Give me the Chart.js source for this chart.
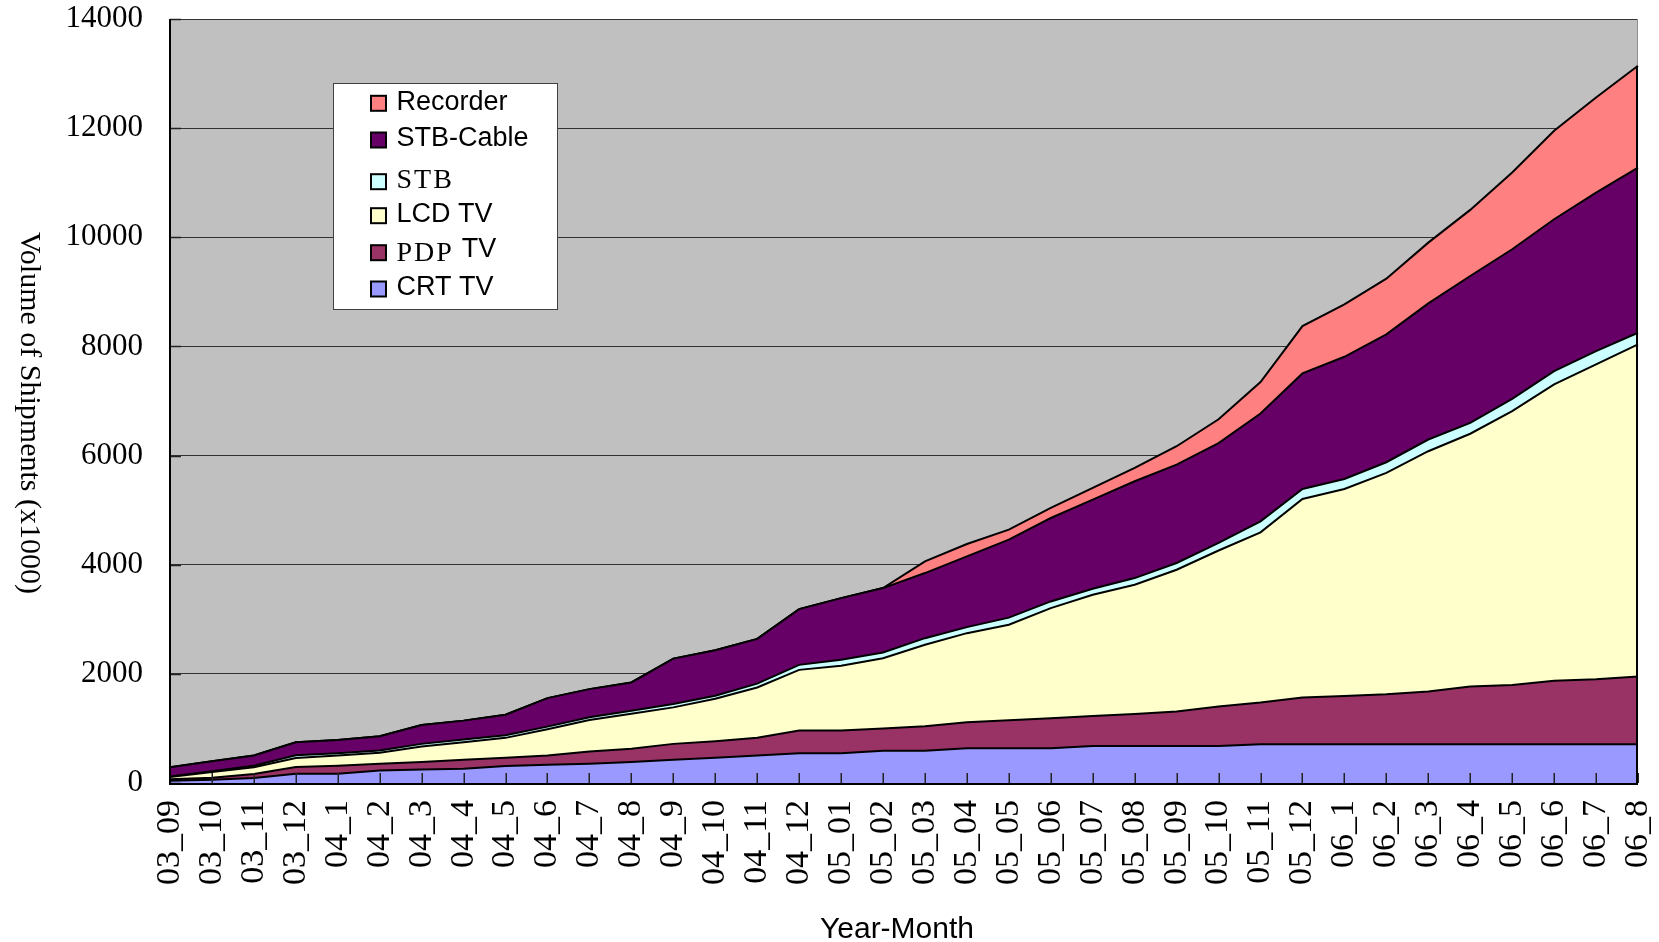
<!DOCTYPE html>
<html>
<head>
<meta charset="utf-8">
<title>Volume of Shipments</title>
<script src="https://cdn.jsdelivr.net/npm/chart.js@4.4.1/dist/chart.umd.min.js"></script>
<style>
html,body{margin:0;padding:0;background:#ffffff;overflow:hidden;}
#box{position:relative;width:1659px;height:942px;}
canvas{display:block;}
</style>
</head>
<body>
<div id="box"><canvas id="chart" width="1659" height="942"></canvas></div>
<script>
// ---------- data ----------
const categories = ['03_09','03_10','03_11','03_12','04_1','04_2','04_3','04_4','04_5','04_6','04_7','04_8','04_9','04_10','04_11','04_12','05_01','05_02','05_03','05_04','05_05','05_06','05_07','05_08','05_09','05_10','05_11','05_12','06_1','06_2','06_3','06_4','06_5','06_6','06_7','06_8'];
const crtTV    = [40,60,91,170,170,231,249,261,310,334,353,383,425,462,505,545,545,593,593,636,636,636,679,679,679,679,710,710,710,710,710,710,710,710,710,710];
const pdpTV    = [30,37,73,122,146,122,134,164,152,171,225,243,292,304,325,415,415,407,447,479,514,551,550,587,630,722,764,856,886,917,966,1058,1088,1162,1192,1241];
const lcdTV    = [40,103,126,164,189,200,286,323,365,480,577,644,669,778,920,1113,1187,1287,1492,1631,1749,2018,2221,2367,2599,2859,3119,3639,3792,4055,4404,4632,5015,5431,5768,6086];
const stb      = [10,15,26,54,42,43,48,48,48,48,49,55,61,55,70,92,110,104,122,110,131,122,110,122,123,140,202,183,184,196,214,200,227,244,244,214];
const stbCable = [170,185,189,238,243,261,347,347,377,523,516,517,833,833,820,1022,1131,1181,1193,1297,1429,1529,1633,1774,1804,1830,1976,2117,2238,2342,2495,2691,2740,2783,2906,3027];
const recorder = [0,0,0,0,0,0,0,0,0,0,0,0,0,0,0,0,0,0,214,226,183,184,214,245,336,435,575,868,961,1022,1113,1211,1407,1621,1743,1866];
const yTickValues = [0,2000,4000,6000,8000,10000,12000,14000];
const seriesNames = ['CRT TV','PDP TV','LCD TV','STB','STB-Cable','Recorder'];
const yAxisTitle = 'Volume of Shipments (x1000)';
const xAxisTitle = 'Year-Month';

// ---------- styles ----------
const seriesColors = ['#9999FF','#993366','#FFFFCC','#CCFFFF','#660066','#FF8080'];
const seriesValues = [crtTV, pdpTV, lcdTV, stb, stbCable, recorder];
const SERIF = '"Liberation Serif", "DejaVu Serif", serif';
const SANS = '"Liberation Sans", Arial, sans-serif';

const datasets = seriesValues.map((vals, i) => ({
  label: seriesNames[i],
  data: vals,
  backgroundColor: seriesColors[i],
  borderColor: '#000000',
  borderWidth: 2,
  pointRadius: 0,
  pointHoverRadius: 0,
  tension: 0,
  fill: i === 0 ? 'origin' : '-1'
}));

// text runs for legend labels (some glyphs in serif, as in the original)
function legendRuns(label) {
  if (label === 'STB') return [{t:'STB', f:'28px ' + SERIF, dy:0, ls:'2px'}];
  if (label === 'PDP TV') return [{t:'PDP', f:'28px ' + SERIF, dy:2, ls:'2px'}, {t:'TV', f:'27px ' + SANS, dy:-2, gap:8}];
  return [{t:label, f:'27px ' + SANS, dy:0}];
}

const decor = {
  id: 'decor',
  beforeDraw(chart) {
    const {ctx, chartArea: a} = chart;
    ctx.save();
    ctx.fillStyle = '#C0C0C0';
    ctx.fillRect(a.left, a.top, a.right - a.left, a.bottom - a.top);
    ctx.restore();
  },
  afterDatasetsDraw(chart) {
    const {ctx, chartArea: a, scales} = chart;
    const xs = scales.x, ys = scales.y;
    ctx.save();
    // inward tick marks
    ctx.strokeStyle = '#222';
    ctx.lineWidth = 1.5;
    ctx.beginPath();
    xs.ticks.forEach((t, i) => {
      const px = Math.round(xs.getPixelForTick(i)) + 0.25;
      ctx.moveTo(px, a.bottom);
      ctx.lineTo(px, a.bottom - 10);
    });
    ys.ticks.forEach((t, i) => {
      const py = Math.round(ys.getPixelForTick(i)) + 0.5;
      ctx.moveTo(a.left, py);
      ctx.lineTo(a.left + 11, py);
    });
    ctx.stroke();
    // right edge: black along the stacked areas, gray above
    const last = categories.length - 1;
    let total = 0;
    seriesValues.forEach(v => total += v[last]);
    const topPx = ys.getPixelForValue(total);
    ctx.strokeStyle = '#909090';
    ctx.lineWidth = 1;
    ctx.beginPath();
    ctx.moveTo(a.right - 0.5, a.top);
    ctx.lineTo(a.right - 0.5, topPx);
    ctx.stroke();
    ctx.strokeStyle = '#000';
    ctx.lineWidth = 2;
    ctx.beginPath();
    ctx.moveTo(a.right - 1, topPx);
    ctx.lineTo(a.right - 1, a.bottom);
    ctx.stroke();
    // axis lines
    ctx.strokeStyle = '#000';
    ctx.lineWidth = 2;
    ctx.beginPath();
    ctx.moveTo(a.left, a.top);
    ctx.lineTo(a.left, a.bottom + 1);
    ctx.lineTo(a.right, a.bottom + 1);
    ctx.stroke();
    ctx.restore();
  },
  afterDraw(chart) {
    const {ctx, chartArea: a} = chart;
    ctx.save();
    // ---- legend ----
    const bx = a.left + 163, by = a.top + 64, bw = 224, bh = 226;
    ctx.fillStyle = '#ffffff';
    ctx.fillRect(bx, by, bw, bh);
    ctx.strokeStyle = '#404040';
    ctx.lineWidth = 1;
    ctx.strokeRect(bx + 0.5, by + 0.5, bw, bh);
    const rowOffsets = [20.3, 57, 98.7, 132.7, 169.7, 206];
    const items = chart.data.datasets.slice().reverse();
    items.forEach((ds, r) => {
      const cy = by + rowOffsets[r];
      ctx.fillStyle = ds.backgroundColor;
      ctx.fillRect(bx + 38, cy - 7.5, 15, 15);
      ctx.strokeStyle = '#000';
      ctx.lineWidth = 2;
      ctx.strokeRect(bx + 38, cy - 7.5, 15, 15);
      let tx = bx + 63.5;
      ctx.fillStyle = '#000';
      ctx.textAlign = 'left';
      ctx.textBaseline = 'middle';
      legendRuns(ds.label).forEach(run => {
        if (run.gap) tx += run.gap;
        ctx.font = run.f;
        ctx.letterSpacing = run.ls || '0px';
        ctx.fillText(run.t, tx, cy - 1 + run.dy);
        tx += ctx.measureText(run.t).width;
      });
      ctx.letterSpacing = '0px';
    });
    // ---- y axis title (vertical, reading downwards) ----
    ctx.save();
    ctx.translate(29, (a.top + a.bottom) / 2 + 12);
    ctx.rotate(Math.PI / 2);
    ctx.font = '30px ' + SERIF;
    ctx.fillStyle = '#000';
    ctx.textAlign = 'center';
    ctx.textBaseline = 'middle';
    ctx.fillText(yAxisTitle, 0, 0);
    ctx.restore();
    // ---- x axis title ----
    ctx.font = '30px ' + SANS;
    ctx.fillStyle = '#000';
    ctx.textAlign = 'center';
    ctx.textBaseline = 'alphabetic';
    ctx.fillText(xAxisTitle, (a.left + a.right) / 2 - 7, 938);
    ctx.restore();
  }
};

new Chart(document.getElementById('chart'), {
  type: 'line',
  data: { labels: categories, datasets: datasets },
  options: {
    responsive: false,
    animation: false,
    devicePixelRatio: 1,
    layout: { padding: { top: 19, right: 21, left: 0, bottom: 0 } },
    plugins: {
      legend: { display: false },
      tooltip: { enabled: false },
      filler: { propagate: false }
    },
    elements: { line: { borderJoinStyle: 'miter' } },
    scales: {
      x: {
        type: 'category',
        offset: false,
        grid: { display: false, drawTicks: false },
        border: { display: false },
        ticks: {
          autoSkip: false,
          maxRotation: 90,
          minRotation: 90,
          padding: 17,
          color: '#000',
          font: { family: SERIF, size: 34, lineHeight: 1 }
        },
        afterFit(scale) {
          scale.height = 159;
          scale.paddingLeft = 0;
          scale.paddingRight = 0;
        }
      },
      y: {
        stacked: true,
        min: 0,
        max: 14000,
        grid: { color: '#333333', lineWidth: 1, drawTicks: false },
        border: { display: false },
        ticks: {
          padding: 27,
          color: '#000',
          font: { family: SERIF, size: 31, lineHeight: 1 },
          callback: v => String(v)
        },
        afterBuildTicks(scale) { scale.ticks = yTickValues.map(v => ({ value: v })); },
        afterFit(scale) {
          scale.width = 170;
          scale.paddingTop = 0;
          scale.paddingBottom = 0;
        }
      }
    }
  },
  plugins: [decor]
});
</script>
</body>
</html>
